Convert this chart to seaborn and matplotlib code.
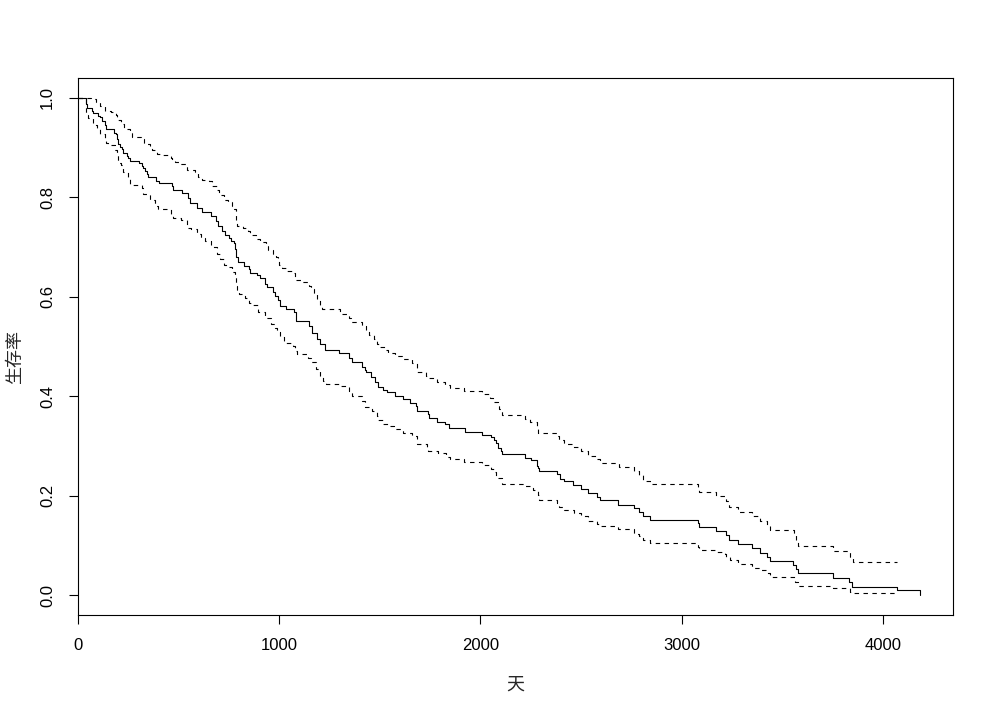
import matplotlib
matplotlib.use("Agg")
import matplotlib.pyplot as plt
import seaborn as sns

# ---- data (time in days, survival) ----
surv_t = [0, 41, 45, 68, 74, 97, 107, 121, 134, 137, 141, 179, 190, 195, 199, 201, 209, 217, 224,
          245, 250, 257, 303, 320, 325, 333, 344, 349, 386, 402, 465, 474, 519, 548, 555, 593,
          618, 659, 684, 698, 717, 729, 750, 762, 774, 779, 784, 787, 795, 823, 850, 853, 890,
          903, 928, 939, 969, 978, 994, 1003, 1036, 1072, 1085, 1148, 1165, 1188, 1201, 1226,
          1297, 1347, 1360, 1414, 1425, 1433, 1458, 1475, 1491, 1516, 1536, 1574, 1616, 1652,
          1682, 1685, 1740, 1745, 1785, 1823, 1844, 1922, 2009, 2055, 2067, 2077, 2088, 2101,
          2108, 2221, 2251, 2282, 2287, 2292, 2381, 2395, 2416, 2461, 2499, 2536, 2580, 2594,
          2685, 2764, 2789, 2809, 2844, 3083, 3088, 3169, 3219, 3237, 3278, 3351, 3389, 3423,
          3439, 3555, 3568, 3580, 3754, 3834, 3849, 4073, 4186]
surv_v = [1.0, 0.987, 0.980, 0.974, 0.969, 0.964, 0.962, 0.954, 0.945, 0.942, 0.937, 0.930, 0.927,
          0.917, 0.910, 0.907, 0.901, 0.897, 0.890, 0.883, 0.879, 0.873, 0.870, 0.863, 0.859,
          0.852, 0.846, 0.841, 0.833, 0.828, 0.822, 0.814, 0.809, 0.799, 0.789, 0.779, 0.771,
          0.763, 0.753, 0.742, 0.732, 0.725, 0.718, 0.713, 0.708, 0.696, 0.686, 0.679, 0.669,
          0.661, 0.655, 0.648, 0.643, 0.637, 0.626, 0.619, 0.610, 0.602, 0.594, 0.581, 0.575,
          0.569, 0.551, 0.542, 0.527, 0.515, 0.505, 0.492, 0.487, 0.476, 0.468, 0.459, 0.453,
          0.448, 0.438, 0.428, 0.419, 0.413, 0.408, 0.400, 0.394, 0.386, 0.381, 0.370, 0.364,
          0.356, 0.349, 0.344, 0.337, 0.329, 0.323, 0.317, 0.311, 0.305, 0.296, 0.290, 0.283,
          0.276, 0.271, 0.260, 0.256, 0.249, 0.243, 0.234, 0.229, 0.221, 0.213, 0.206, 0.198,
          0.191, 0.182, 0.176, 0.168, 0.160, 0.152, 0.145, 0.136, 0.128, 0.120, 0.111, 0.102,
          0.094, 0.085, 0.076, 0.068, 0.060, 0.052, 0.044, 0.034, 0.026, 0.017, 0.0095, 0.0]

upper_t = [0, 63, 88, 111, 134, 162, 187, 193, 215, 228, 257, 267, 311, 328, 356, 366, 394, 422,
           464, 469, 482, 510, 535, 543, 581, 598, 618, 651, 668, 689, 701, 727, 745, 767, 774,
           784, 787, 792, 820, 845, 853, 883, 906, 933, 944, 971, 983, 996, 1001, 1016, 1041,
           1069, 1077, 1110, 1148, 1157, 1172, 1188, 1205, 1215, 1304, 1347, 1357, 1412, 1429,
           1444, 1470, 1484, 1500, 1528, 1541, 1574, 1611, 1659, 1684, 1732, 1742, 1782, 1824,
           1848, 1919, 2008, 2050, 2065, 2087, 2093, 2100, 2108, 2221, 2249, 2282, 2287, 2380,
           2393, 2415, 2460, 2498, 2536, 2579, 2594, 2687, 2761, 2788, 2809, 2844, 3083, 3088,
           3169, 3219, 3237, 3278, 3351, 3389, 3423, 3441, 3557, 3568, 3580, 3754, 3837, 3850,
           4073]
upper_v = [1.0, 0.998, 0.991, 0.983, 0.974, 0.972, 0.966, 0.955, 0.947, 0.937, 0.930, 0.922,
           0.917, 0.907, 0.900, 0.895, 0.888, 0.885, 0.880, 0.877, 0.872, 0.867, 0.864, 0.855,
           0.850, 0.841, 0.834, 0.832, 0.822, 0.815, 0.805, 0.795, 0.790, 0.782, 0.777, 0.763,
           0.753, 0.743, 0.738, 0.733, 0.724, 0.716, 0.711, 0.702, 0.694, 0.686, 0.679, 0.673,
           0.663, 0.657, 0.652, 0.648, 0.634, 0.629, 0.622, 0.616, 0.605, 0.596, 0.582, 0.575,
           0.565, 0.557, 0.549, 0.542, 0.532, 0.524, 0.515, 0.505, 0.498, 0.492, 0.486, 0.480,
           0.475, 0.467, 0.448, 0.441, 0.436, 0.429, 0.422, 0.416, 0.410, 0.404, 0.397, 0.388,
           0.380, 0.374, 0.370, 0.362, 0.355, 0.348, 0.341, 0.327, 0.321, 0.312, 0.303, 0.297,
           0.290, 0.280, 0.274, 0.265, 0.258, 0.249, 0.241, 0.229, 0.223, 0.215, 0.207, 0.199,
           0.190, 0.178, 0.168, 0.160, 0.150, 0.139, 0.131, 0.120, 0.109, 0.098, 0.089, 0.076,
           0.066, 0.066]

lower_t = [0, 41, 51, 74, 79, 96, 107, 134, 141, 147, 182, 193, 199, 215, 224, 248, 260, 316, 325,
           360, 382, 396, 464, 472, 510, 543, 560, 593, 610, 631, 659, 693, 704, 727, 741, 767,
           779, 786, 790, 800, 830, 850, 865, 895, 928, 936, 961, 978, 989, 1003, 1022, 1069,
           1077, 1089, 1143, 1160, 1185, 1201, 1218, 1235, 1304, 1347, 1360, 1414, 1425, 1460,
           1484, 1493, 1518, 1543, 1571, 1613, 1659, 1684, 1737, 1742, 1787, 1831, 1848, 1919,
           2007, 2055, 2068, 2077, 2087, 2107, 2217, 2259, 2287, 2292, 2381, 2391, 2415, 2463,
           2498, 2536, 2579, 2595, 2685, 2761, 2788, 2809, 2844, 3083, 3088, 3169, 3215, 3219,
           3240, 3278, 3351, 3389, 3423, 3439, 3566, 3578, 3754, 3837, 3850, 4073]
lower_v = [1.0, 0.966, 0.959, 0.950, 0.946, 0.937, 0.928, 0.920, 0.910, 0.905, 0.896, 0.887,
           0.870, 0.865, 0.850, 0.838, 0.825, 0.818, 0.806, 0.795, 0.783, 0.777, 0.766, 0.759,
           0.755, 0.739, 0.736, 0.727, 0.718, 0.712, 0.700, 0.687, 0.675, 0.664, 0.659, 0.649,
           0.641, 0.622, 0.612, 0.605, 0.598, 0.588, 0.583, 0.570, 0.562, 0.557, 0.545, 0.537,
           0.529, 0.520, 0.508, 0.502, 0.490, 0.484, 0.476, 0.469, 0.455, 0.441, 0.431, 0.425,
           0.420, 0.410, 0.400, 0.391, 0.379, 0.370, 0.361, 0.352, 0.345, 0.340, 0.334, 0.327,
           0.321, 0.304, 0.297, 0.290, 0.285, 0.277, 0.274, 0.267, 0.261, 0.254, 0.247, 0.239,
           0.235, 0.223, 0.219, 0.211, 0.201, 0.191, 0.185, 0.178, 0.172, 0.166, 0.159, 0.150,
           0.144, 0.139, 0.132, 0.123, 0.118, 0.110, 0.105, 0.096, 0.091, 0.086, 0.082, 0.076,
           0.071, 0.062, 0.055, 0.050, 0.044, 0.036, 0.026, 0.019, 0.014, 0.007, 0.0034, 0.0034]

x_ticks = [0, 1000, 2000, 3000, 4000]
y_ticks = [0.0, 0.2, 0.4, 0.6, 0.8, 1.0]
y_tick_labels = ["0.0", "0.2", "0.4", "0.6", "0.8", "1.0"]
x_label = "天"
y_label = "生存率"

# ---- style ----
sns.set_style("ticks")
plt.rcParams["font.family"] = ["Liberation Sans", "Noto Sans CJK SC", "DejaVu Sans"]
plt.rcParams["axes.unicode_minus"] = False

fig = plt.figure(figsize=(9.94, 7.14), dpi=100)
fig.patch.set_facecolor("white")
ax = fig.add_axes([78 / 994, 1 - 615 / 714, 875 / 994, 537 / 714])
ax.set_facecolor("white")

lw = 0.8
sns.lineplot(x=surv_t, y=surv_v, ax=ax, color="black", linewidth=lw,
             drawstyle="steps-post", estimator=None, sort=False)
sns.lineplot(x=upper_t, y=upper_v, ax=ax, color="black", linewidth=lw,
             drawstyle="steps-post", estimator=None, sort=False, linestyle=(0, (4, 4)))
sns.lineplot(x=lower_t, y=lower_v, ax=ax, color="black", linewidth=lw,
             drawstyle="steps-post", estimator=None, sort=False, linestyle=(0, (4, 4)))

ax.set_xlim(0, 4349)
ax.set_ylim(-0.04, 1.04)
ax.set_xticks(x_ticks)
ax.set_xticklabels([str(v) for v in x_ticks])
ax.set_yticks(y_ticks)
ax.set_yticklabels(y_tick_labels, rotation=90, va="center")

for s in ax.spines.values():
    s.set_visible(True)
    s.set_color("black")
    s.set_linewidth(0.8)

ax.tick_params(axis="both", direction="out", length=6.5, width=0.8, color="black",
               labelsize=12, labelcolor="black", pad=10)

ax.set_xlabel(x_label, fontsize=13, family=["Noto Sans CJK SC", "DejaVu Sans"])
ax.set_ylabel(y_label, fontsize=13, family=["Noto Sans CJK SC", "DejaVu Sans"])
ax.xaxis.set_label_coords(0.5, -0.13)
ax.yaxis.set_label_coords(-0.072, 0.48)
ax.xaxis.label.set_va("center")
ax.yaxis.label.set_va("center")

fig.savefig("out.png", dpi=100, facecolor="white")
